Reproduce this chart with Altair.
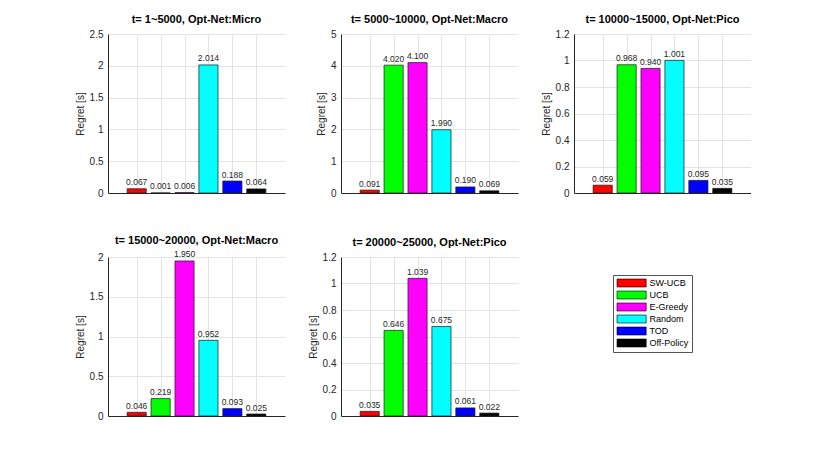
import altair as alt
import pandas as pd

methods = ["SW-UCB", "UCB", "E-Greedy", "Random", "TOD", "Off-Policy"]
colors = ["#ff0000", "#00ff00", "#ff00ff", "#00ffff", "#0000ff", "#000000"]
positions = [1, 2, 3, 4, 5, 6]

titles = [
    "t= 1~5000, Opt-Net:Micro",
    "t= 5000~10000, Opt-Net:Macro",
    "t= 10000~15000, Opt-Net:Pico",
    "t= 15000~20000, Opt-Net:Macro",
    "t= 20000~25000, Opt-Net:Pico",
]
vals1 = [0.067, 0.001, 0.006, 2.014, 0.188, 0.064]
vals2 = [0.091, 4.020, 4.100, 1.990, 0.190, 0.069]
vals3 = [0.059, 0.968, 0.940, 1.001, 0.095, 0.035]
vals4 = [0.046, 0.219, 1.950, 0.952, 0.093, 0.025]
vals5 = [0.035, 0.646, 1.039, 0.675, 0.061, 0.022]
all_vals = [vals1, vals2, vals3, vals4, vals5]

ymax = [2.5, 5, 1.2, 2, 1.2]
yticks = [
    [0, 0.5, 1, 1.5, 2, 2.5],
    [0, 1, 2, 3, 4, 5],
    [0, 0.2, 0.4, 0.6, 0.8, 1, 1.2],
    [0, 0.5, 1, 1.5, 2],
    [0, 0.2, 0.4, 0.6, 0.8, 1, 1.2],
]
x_domain = [-0.2, 7.2]

FONT = "Liberation Sans"
AXC = "#262626"


def panel(title, vals, top, ticks):
    df = pd.DataFrame({"method": methods, "pos": positions, "value": vals})
    base = alt.Chart(df).transform_calculate(
        x0="datum.pos - 0.4", x1="datum.pos + 0.4"
    )
    xaxis = alt.Axis(values=positions, labels=False, ticks=False, tickSize=0,
                     grid=True, title=None, domainColor=AXC)
    xscale = alt.Scale(domain=x_domain, nice=False, zero=False)
    yscale = alt.Scale(domain=[0, top], nice=False)
    yaxis = alt.Axis(values=ticks, format="~g", title="Regret [s]", grid=True,
                     ticks=False, tickSize=0, labelPadding=5, titlePadding=4,
                     domainColor=AXC)
    bars = base.mark_bar(stroke="#1a1a1a", strokeWidth=0.7).encode(
        x=alt.X("x0:Q", scale=xscale, axis=xaxis),
        x2="x1:Q",
        y=alt.Y("value:Q", scale=yscale, axis=yaxis),
        y2=alt.datum(0),
        color=alt.Color(
            "method:N",
            scale=alt.Scale(domain=methods, range=colors),
            title=None,
            legend=alt.Legend(
                orient="none", legendX=505, legendY=241,
                symbolType="M-1,-1 H6.3 V1 H-1 Z",
                symbolSize=64,
                symbolStrokeColor="#000000",
                symbolStrokeWidth=0.6,
                symbolOpacity=1,
                labelOffset=24,
                labelFontSize=9,
                labelFont=FONT,
                labelColor="#000000",
                rowPadding=1,
                padding=3.5,
                fillColor="#ffffff",
                strokeColor="#555555",
            ),
        ),
    )
    labels = base.mark_text(baseline="bottom", dy=-1.5, fontSize=8.5,
                            font=FONT, color=AXC).encode(
        x=alt.X("pos:Q", scale=xscale, axis=xaxis),
        y=alt.Y("value:Q", scale=yscale, axis=yaxis),
        text=alt.Text("value:Q", format=".3f"),
    )
    return alt.layer(bars, labels).properties(
        width=177, height=159, title=alt.Title(title)
    )


panels = [panel(t, v, m, k) for t, v, m, k in zip(titles, all_vals, ymax, yticks)]

chart = alt.concat(
    *panels, columns=3, spacing={"row": 64, "column": 56}, bounds="flush"
).resolve_scale(color="shared", x="independent", y="independent").properties(
    padding={"left": 67, "top": 6, "right": 0, "bottom": 0}
).configure_view(stroke=None).configure_axis(
    labelFont=FONT, labelFontSize=10, labelColor=AXC,
    titleFont=FONT, titleFontSize=10, titleFontWeight="normal", titleColor=AXC,
    gridColor="#e3e3e3", gridWidth=1, domainWidth=1,
).configure_title(
    font=FONT, fontSize=11, fontWeight="bold", color="#000000", offset=4
)

chart.save("out.html", embed_options={"renderer": "svg", "actions": False})
